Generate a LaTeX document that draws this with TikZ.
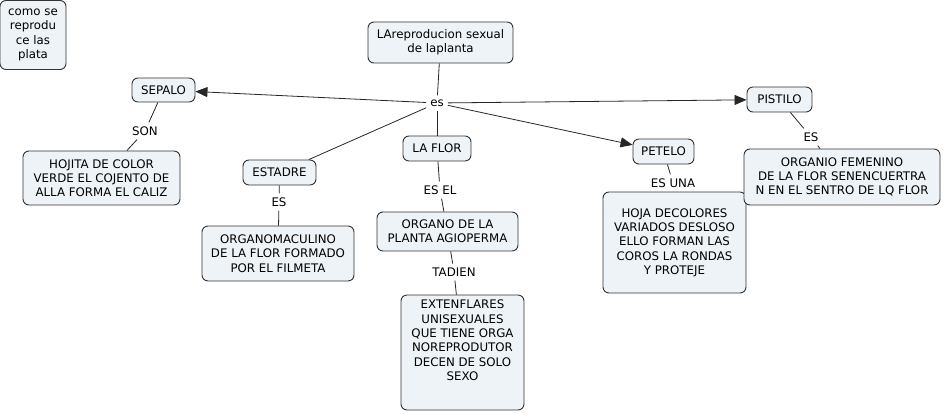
\documentclass[tikz,border=0pt]{standalone}
\usepackage{fontspec}
\setmainfont{DejaVu Sans}
\usetikzlibrary{arrows.meta}
\definecolor{conceptfill}{HTML}{EDF3F6}
\definecolor{conceptline}{HTML}{333333}
\tikzset{
  concept/.style = {draw = conceptline, fill = conceptfill, rounded corners = 6pt, align = center, inner sep = 2pt, line width = 0.9pt},
  linkword/.style = {inner sep = 4pt},
  link/.style = {draw = black!85, line width = 0.8pt},
  linkarrow/.style = {link, -{Triangle[length = 12pt, width = 10pt]}}
}

\begin{document}
\begin{tikzpicture}[x = 1pt, y = -1pt, font = \fontsize{11.8}{14.3}\selectfont]
  \useasboundingbox (0,0) rectangle (943,413);
  % concepts
  \node[concept, minimum width = 66, minimum height = 69] (comose) at (33,35) {como se\\reprodu\\ce las\\plata};
  \node[concept, minimum width = 145, minimum height = 41] (repro) at (440.5,42.5) {LAreproducion sexual\\de laplanta};
  \node[concept, minimum width = 63, minimum height = 24] (sepalo) at (163.5,90) {SEPALO};
  \node[concept, minimum width = 157, minimum height = 54] (hojita) at (101.5,178) {HOJITA DE COLOR\\VERDE EL COJENTO DE\\ALLA FORMA EL CALIZ};
  \node[concept, minimum width = 73, minimum height = 25] (estadre) at (279.5,172.5) {ESTADRE};
  \node[concept, minimum width = 152, minimum height = 55] (masculino) at (278,253.5) {ORGANOMACULINO\\DE LA FLOR FORMADO\\POR EL FILMETA};
  \node[concept, minimum width = 68, minimum height = 25] (laflor) at (437,148.5) {LA FLOR};
  \node[concept, minimum width = 141, minimum height = 39] (organo) at (447.5,231.5) {ORGANO DE LA\\PLANTA AGIOPERMA};
  \node[concept, minimum width = 123, minimum height = 115] (extenflares) at (462.5,352.5) {EXTENFLARES\\UNISEXUALES\\QUE TIENE ORGA\\NOREPRODUTOR\\DECEN DE SOLO\\SEXO\\[10pt]};
  \node[concept, minimum width = 61, minimum height = 25] (petelo) at (663.5,151.5) {PETELO};
  \node[concept, minimum width = 143, minimum height = 101] (hoja) at (674.5,242.5) {HOJA DECOLORES\\VARIADOS DESLOSO\\ELLO FORMAN LAS\\COROS LA RONDAS\\Y PROTEJE};
  \node[concept, minimum width = 65, minimum height = 25] (pistilo) at (779.5,99.5) {PISTILO};
  \node[concept, minimum width = 196, minimum height = 56] (femenino) at (842,177) {ORGANIO FEMENINO\\DE LA FLOR SENENCUERTRA\\N EN EL SENTRO DE LQ FLOR};
  % linking words
  \node[linkword] (es) at (437,103) {es};
  \node[linkword] (son) at (145,131) {SON};
  \node[linkword] (esestadre) at (279,202) {ES};
  \node[linkword] (esel) at (440,190) {ES EL};
  \node[linkword] (tadien) at (454,272) {TADIEN};
  \node[linkword] (esuna) at (673,183) {ES UNA};
  \node[linkword] (espistilo) at (811,137) {ES};
  % connectors
  \draw[link] (repro) -- (es);
  \draw[linkarrow] (es) -- (sepalo);
  \draw[linkarrow] (es) -- (pistilo);
  \draw[linkarrow] (es) -- (petelo);
  \draw[link] (es) -- (estadre);
  \draw[link] (es) -- (laflor);
  \draw[link] (sepalo) -- (son);
  \draw[link] (son) -- (hojita);
  \draw[link] (estadre) -- (esestadre);
  \draw[link] (esestadre) -- (masculino);
  \draw[link] (laflor) -- (esel);
  \draw[link] (esel) -- (organo);
  \draw[link] (organo) -- (tadien);
  \draw[link] (tadien) -- (extenflares);
  \draw[link] (petelo) -- (esuna);
  \draw[link] (esuna) -- (hoja);
  \draw[link] (pistilo) -- (espistilo);
  \draw[link] (espistilo) -- (femenino);
\end{tikzpicture}
\end{document}
